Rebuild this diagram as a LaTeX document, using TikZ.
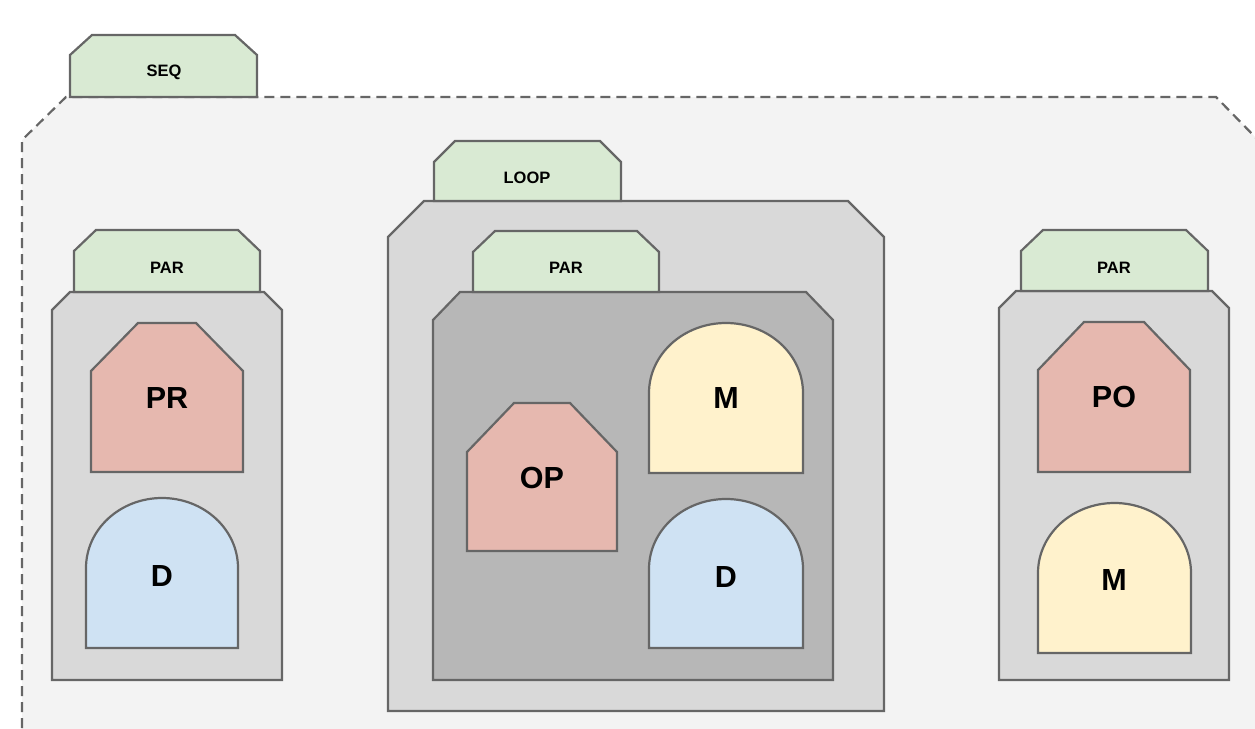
\documentclass[tikz,border=0pt]{standalone}
\usepackage{fontspec}
\setmainfont{Liberation Sans}
\definecolor{seqfill}{HTML}{F3F3F3}
\definecolor{tabfill}{HTML}{D9EAD3}
\definecolor{boxfill}{HTML}{D9D9D9}
\definecolor{darkfill}{HTML}{B7B7B7}
\definecolor{redfill}{HTML}{E6B8AF}
\definecolor{yelfill}{HTML}{FFF2CC}
\definecolor{bluefill}{HTML}{CFE2F3}
\definecolor{edge}{HTML}{666666}
% chamfered box: x1 y1 x2 y2 chamfer-x chamfer-y
\newcommand\chamf[6]{(#1,#4) -- (#1,#2+#6) -- (#1+#5,#2) -- (#3-#5,#2) -- (#3,#2+#6) -- (#3,#4) -- cycle}
% dome box: x1 y1 x2 y2 arc-height
\newcommand\dome[5]{(#1,#4) -- (#1,#2+#5) arc[start angle=180,end angle=360,x radius={(#3-#1)/2},y radius=#5] -- (#3,#4) -- cycle}
\begin{document}
\begin{tikzpicture}[x=1pt,y=-1pt,
  shp/.style={draw=edge,line width=2.2pt,line join=miter},
  tablbl/.style={font=\bfseries\fontsize{16.5}{16.5}\selectfont,inner sep=0pt},
  biglbl/.style={font=\bfseries\fontsize{30.5}{30.5}\selectfont,inner sep=0pt}]
\useasboundingbox (0,0) rectangle (1255,728);
\clip (0,0) rectangle (1255,728);
% SEQ
\filldraw[fill=seqfill,draw=edge,line width=2.2pt,dash pattern=on 10pt off 6pt]
  (22,760) -- (22,140) -- (66,97) -- (1216,97) -- (1258,140) -- (1258,760);
\filldraw[shp,fill=tabfill] \chamf{70}{35}{257}{97}{22}{20};
\node[tablbl] (seq) at (164,72) {SEQ};
% left PAR
\filldraw[shp,fill=boxfill] \chamf{52}{292}{282}{680}{18}{18};
\filldraw[shp,fill=tabfill] \chamf{74}{230}{260}{292}{22}{21};
\node[tablbl] (par1) at (167,268) {PAR};
\filldraw[shp,fill=redfill] \chamf{91}{323}{243}{472}{47}{48};
\node[biglbl] (pr) at (167,398) {PR};
\filldraw[shp,fill=bluefill] \dome{86}{498}{238}{648}{70};
\node[biglbl] (d1) at (162,576) {D};
% LOOP
\filldraw[shp,fill=boxfill] \chamf{388}{201}{884}{711}{36}{36};
\filldraw[shp,fill=tabfill] \chamf{434}{141}{621}{201}{21}{21};
\node[tablbl] (loop) at (527,178) {LOOP};
% inner PAR
\filldraw[shp,fill=darkfill] \chamf{433}{292}{833}{680}{27}{28};
\filldraw[shp,fill=tabfill] \chamf{473}{231}{659}{292}{22}{21};
\node[tablbl] (par2) at (566,268) {PAR};
\filldraw[shp,fill=redfill] \chamf{467}{403}{617}{551}{47}{49};
\node[biglbl] (op) at (542,478) {OP};
\filldraw[shp,fill=yelfill] \dome{649}{323}{803}{473}{70};
\node[biglbl] (m1) at (726,398) {M};
\filldraw[shp,fill=bluefill] \dome{649}{499}{803}{648}{70};
\node[biglbl] (d2) at (726,577) {D};
% right PAR
\filldraw[shp,fill=boxfill] \chamf{999}{291}{1229}{680}{17}{17};
\filldraw[shp,fill=tabfill] \chamf{1021}{230}{1208}{291}{22}{21};
\node[tablbl] (par3) at (1114,268) {PAR};
\filldraw[shp,fill=redfill] \chamf{1038}{322}{1190}{472}{46}{48};
\node[biglbl] (po) at (1114,397) {PO};
\filldraw[shp,fill=yelfill] \dome{1038}{503}{1191}{653}{70};
\node[biglbl] (m2) at (1114,580) {M};
\end{tikzpicture}
\end{document}
